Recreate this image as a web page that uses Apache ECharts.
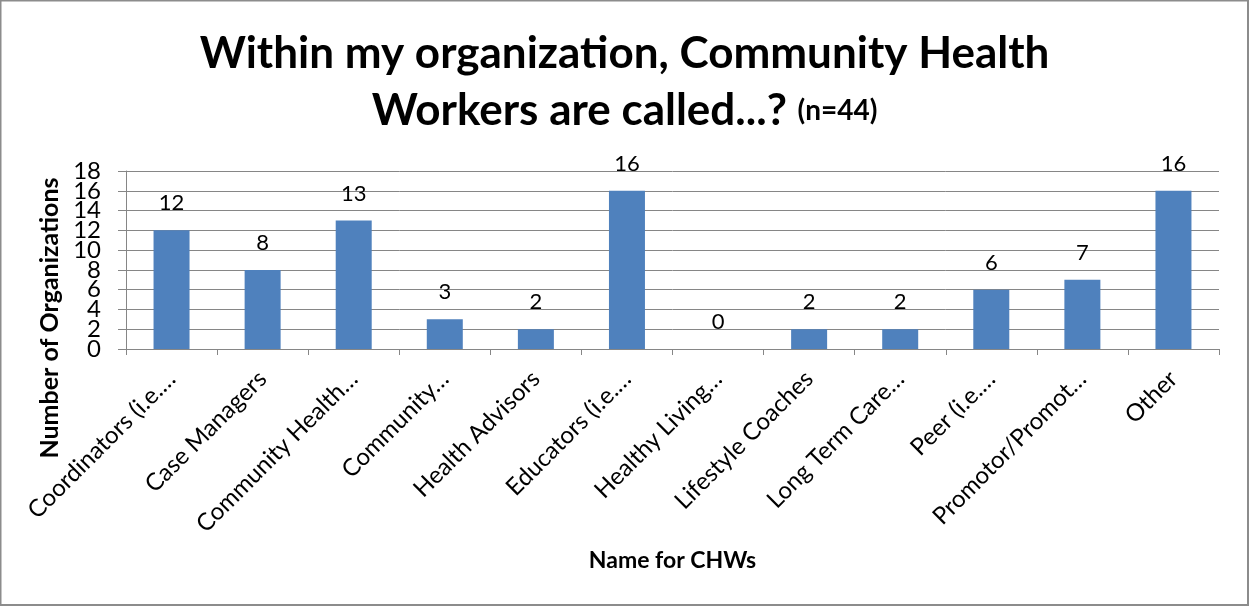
<!DOCTYPE html>
<html>
<head>
<meta charset="utf-8">
<script src="https://cdn.jsdelivr.net/npm/echarts@6/dist/echarts.min.js"></script>
<style>
  html, body { margin: 0; padding: 0; background: #fff; }
  #chart { width: 1249px; height: 606px; }
</style>
</head>
<body>
<div id="chart"></div>
<script>
// Names used for community health workers (labels as shown on the axis)
const categories = [
  'Coordinators (i.e.…',
  'Case Managers',
  'Community Health…',
  'Community…',
  'Health Advisors',
  'Educators (i.e.…',
  'Healthy Living…',
  'Lifestyle Coaches',
  'Long Term Care…',
  'Peer (i.e.…',
  'Promotor/Promot…',
  'Other'
];
// Number of organizations using each name
const counts = [12, 8, 13, 3, 2, 16, 0, 2, 2, 6, 7, 16];
// Value axis ticks
const yTicks = [0, 2, 4, 6, 8, 10, 12, 14, 16, 18];

const FONT = 'Lato, "Noto Sans", sans-serif';
const GRID_COLOR = '#868686';
const Y_MIN = yTicks[0];
const Y_MAX = yTicks[yTicks.length - 1];

const yLabelStyle = {
  margin: 25,
  fontFamily: FONT,
  fontSize: 24,
  color: '#000',
  hideOverlap: false
};

const chart = echarts.init(document.getElementById('chart'), null, { renderer: 'canvas' });

chart.setOption({
  backgroundColor: '#ffffff',
  animation: false,
  title: {
    left: 'center',
    top: 20,
    text: '{a|Within my organization, Community Health}\n{a|Workers are called...? }{b|(n=44)}',
    textStyle: {
      rich: {
        a: { fontFamily: FONT, fontWeight: 'bold', fontSize: 44, color: '#000', lineHeight: 57 },
        b: { fontFamily: FONT, fontWeight: 'bold', fontSize: 28, color: '#000', lineHeight: 57 }
      }
    }
  },
  grid: { left: 126, right: 30, top: 171, bottom: 257, containLabel: false },
  xAxis: {
    type: 'category',
    data: categories,
    name: 'Name for CHWs',
    nameLocation: 'middle',
    nameGap: 200,
    nameTextStyle: { fontFamily: FONT, fontWeight: 'bold', fontSize: 23, color: '#000' },
    axisLine: { show: true, lineStyle: { color: GRID_COLOR, width: 1 } },
    axisTick: { show: true, length: 6, lineStyle: { color: GRID_COLOR } },
    axisLabel: {
      rotate: 45,
      interval: 0,
      margin: 26,
      fontFamily: FONT,
      fontSize: 24,
      color: '#000'
    }
  },
  yAxis: [
    {
      // main value axis: line, ticks, gridlines and the inner tick labels
      type: 'value',
      min: Y_MIN,
      max: Y_MAX,
      interval: 2,
      axisLine: { show: true, lineStyle: { color: GRID_COLOR, width: 1 } },
      axisTick: { show: true, length: 8, lineStyle: { color: GRID_COLOR } },
      splitLine: { show: true, lineStyle: { color: GRID_COLOR, width: 1 } },
      axisLabel: Object.assign({}, yLabelStyle, {
        formatter: v => (v === Y_MIN || v === Y_MAX) ? '' : String(v)
      })
    },
    {
      // companion axis carrying only the end labels (0 and 18)
      type: 'value',
      position: 'left',
      min: Y_MIN,
      max: Y_MAX,
      interval: 2,
      axisLine: { show: false },
      axisTick: { show: false },
      splitLine: { show: false },
      axisLabel: Object.assign({}, yLabelStyle, {
        showMinLabel: true,
        showMaxLabel: true,
        formatter: v => (v === Y_MIN || v === Y_MAX) ? String(v) : ''
      })
    }
  ],
  graphic: [
    {
      type: 'text',
      x: 50,
      y: 318,
      rotation: Math.PI / 2,
      style: {
        text: 'Number of Organizations',
        fontFamily: FONT,
        fontWeight: 'bold',
        fontSize: 25,
        fill: '#000',
        textAlign: 'center',
        textVerticalAlign: 'middle'
      }
    },
    {
      type: 'rect',
      shape: { x: 0.5, y: 0.5, width: 1247.5, height: 604.5 },
      style: { fill: null, stroke: '#8c8c8c', lineWidth: 2 },
      silent: true
    }
  ],
  series: [
    {
      type: 'bar',
      yAxisIndex: 0,
      data: counts,
      barWidth: 36,
      itemStyle: { color: '#4F81BD' },
      label: {
        show: true,
        position: 'top',
        distance: 16,
        fontFamily: FONT,
        fontSize: 22,
        color: '#000'
      }
    }
  ]
});
</script>
</body>
</html>
